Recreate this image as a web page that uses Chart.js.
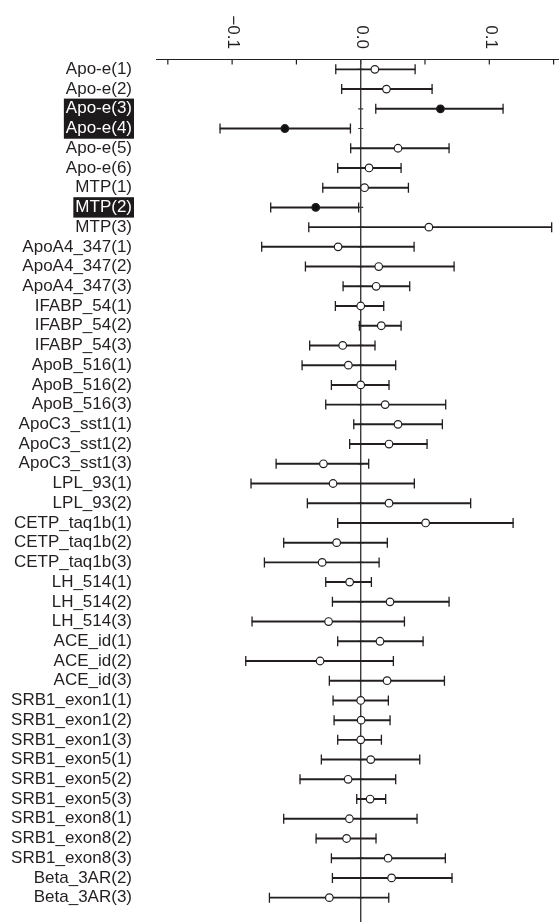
<!DOCTYPE html>
<html>
<head>
<meta charset="utf-8">
<script src="https://cdn.jsdelivr.net/npm/chart.js@4.4.1/dist/chart.umd.min.js"></script>
<style>
  html, body { margin: 0; padding: 0; background: #fff; }
  #wrap { width: 559px; height: 922px; position: relative; }
</style>
</head>
<body>
<div id="wrap"><canvas id="forestChart"></canvas></div>
<script>
/* Data */
let labels = [
    "Apo-e(1)", "Apo-e(2)", "Apo-e(3)", "Apo-e(4)", "Apo-e(5)", "Apo-e(6)",
    "MTP(1)", "MTP(2)", "MTP(3)",
    "ApoA4_347(1)", "ApoA4_347(2)", "ApoA4_347(3)",
    "IFABP_54(1)", "IFABP_54(2)", "IFABP_54(3)",
    "ApoB_516(1)", "ApoB_516(2)", "ApoB_516(3)",
    "ApoC3_sst1(1)", "ApoC3_sst1(2)", "ApoC3_sst1(3)",
    "LPL_93(1)", "LPL_93(2)",
    "CETP_taq1b(1)", "CETP_taq1b(2)", "CETP_taq1b(3)",
    "LH_514(1)", "LH_514(2)", "LH_514(3)",
    "ACE_id(1)", "ACE_id(2)", "ACE_id(3)",
    "SRB1_exon1(1)", "SRB1_exon1(2)", "SRB1_exon1(3)",
    "SRB1_exon5(1)", "SRB1_exon5(2)", "SRB1_exon5(3)",
    "SRB1_exon8(1)", "SRB1_exon8(2)", "SRB1_exon8(3)",
    "Beta_3AR(2)", "Beta_3AR(3)"
];

let estimate = [
    0.011, 0.020, 0.062, -0.059, 0.029, 0.0065,
    0.003, -0.035, 0.053,
    -0.0176, 0.014, 0.012,
    0.000, 0.016, -0.014,
    -0.0096, 0.000, 0.019,
    0.029, 0.022, -0.029,
    -0.0215, 0.022,
    0.0505, -0.0187, -0.030,
    -0.0086, 0.0228, -0.025,
    0.015, -0.0316, 0.0205,
    0.000, 0.0003, 0.000,
    0.0078, -0.0098, 0.0073,
    -0.0088, -0.011, 0.0213,
    0.024, -0.0244
];

let lower = [
    -0.0194, -0.0148, 0.0117, -0.1094, -0.0078, -0.0179,
    -0.0295, -0.0700, -0.0404,
    -0.0770, -0.0430, -0.0137,
    -0.0197, -0.0010, -0.0397,
    -0.0456, -0.0228, -0.0272,
    -0.0054, -0.0086, -0.0658,
    -0.0853, -0.0415,
    -0.0179, -0.0599, -0.0749,
    -0.0272, -0.0220, -0.0845,
    -0.0179, -0.0894, -0.0244,
    -0.0215, -0.0207, -0.0179,
    -0.0306, -0.0472, -0.0031,
    -0.0599, -0.0347, -0.0228,
    -0.0220, -0.0710
];

let upper = [
    0.0423, 0.0555, 0.1107, -0.0080, 0.0687, 0.0314,
    0.0371, -0.0016, 0.1485,
    0.0415, 0.0726, 0.0381,
    0.0179, 0.0314, 0.0111,
    0.0272, 0.0220, 0.0661,
    0.0635, 0.0516, 0.0062,
    0.0417, 0.0855,
    0.1185, 0.0207, 0.0143,
    0.0083, 0.0687, 0.0340,
    0.0485, 0.0254, 0.0651,
    0.0215, 0.0228, 0.0161,
    0.0459, 0.0272, 0.0194,
    0.0438, 0.0119, 0.0658,
    0.0710, 0.0218
];

// rows flagged as significant (black dot, boxed label)
let significant = ["Apo-e(3)", "Apo-e(4)", "MTP(2)"];

let xTickValues = [-0.15, -0.1, -0.05, 0, 0.05, 0.1, 0.15];
let xLabelValues = [-0.1, 0, 0.1];
let xLabelTexts = ["\u22120.1", "0.0", "0.1"];

/* Helpers */
const INK = "#231f20";
const FONT = '"Liberation Sans", Arial, Helvetica, sans-serif';
function isSig(i) {
    return significant.indexOf(labels[i]) >= 0;
}

/* Top axis + zero line, drawn under the marks */
const topAxis = {
    id: "topAxis",
    beforeDatasetsDraw(chart) {
        const { ctx, chartArea, scales } = chart;
        const x = scales.x, y = scales.y;
        const top = chartArea.top;
        const zero = x.getPixelForValue(0);
        ctx.save();
        ctx.strokeStyle = INK;
        ctx.lineWidth = 1.2;
        ctx.beginPath();
        ctx.moveTo(chartArea.left, top);
        ctx.lineTo(chartArea.right, top);
        xTickValues.forEach(function (v) {
            let px = x.getPixelForValue(v);
            ctx.moveTo(px, top);
            ctx.lineTo(px, top + 5);
        });
        ctx.stroke();

        ctx.beginPath();
        ctx.lineWidth = 1.4;
        ctx.strokeStyle = "#3a3a3a";
        ctx.moveTo(zero, top);
        ctx.lineTo(zero, chart.height);
        ctx.stroke();

        ctx.beginPath();
        ctx.lineWidth = 1.2;
        labels.forEach(function (l, i) {
            let py = y.getPixelForValue(i);
            ctx.moveTo(zero - 2.5, py);
            ctx.lineTo(zero + 2.5, py);
        });
        ctx.stroke();

        ctx.fillStyle = INK;
        ctx.font = "17px " + FONT;
        ctx.textAlign = "right";
        ctx.textBaseline = "middle";
        xLabelValues.forEach(function (v, i) {
            ctx.save();
            ctx.translate(x.getPixelForValue(v) + 1, top - 10.5);
            ctx.rotate(Math.PI / 2);
            ctx.fillText(xLabelTexts[i], 0, 0);
            ctx.restore();
        });
        ctx.restore();
    }
};

/* Forest Plot */
let capData = [];
labels.forEach(function (l, i) {
    capData.push({ x: lower[i], y: l });
    capData.push({ x: upper[i], y: l });
});

new Chart("forestChart", {
    type: "bar",
    data: {
        labels: labels,
        datasets: [{
            type: "line",
            order: 0,
            data: labels.map(function (l, i) { return { x: estimate[i], y: l }; }),
            showLine: false,
            pointStyle: "circle",
            pointRadius: 3.8,
            pointBorderWidth: 1.2,
            pointBorderColor: INK,
            pointBackgroundColor: function (c) { return isSig(c.dataIndex) ? "#111" : "#fff"; }
        }, {
            type: "line",
            order: 1,
            data: capData,
            showLine: false,
            pointStyle: "line",
            pointRotation: 90,
            pointRadius: 5,
            pointBorderWidth: 1.3,
            pointBorderColor: INK
        }, {
            type: "bar",
            order: 2,
            data: labels.map(function (l, i) { return [lower[i], upper[i]]; }),
            backgroundColor: INK,
            borderWidth: 0,
            barThickness: 1.3
        }]
    },
    options: {
        indexAxis: "y",
        responsive: true,
        maintainAspectRatio: false,
        animation: false,
        events: [],
        layout: {
            autoPadding: false,
            padding: { top: 59.5, bottom: 14.5, left: 0, right: 0 }
        },
        plugins: {
            legend: { display: false },
            tooltip: { enabled: false }
        },
        scales: {
            x: {
                type: "linear",
                display: false,
                min: -0.1592,
                max: 0.1542
            },
            y: {
                type: "category",
                offset: true,
                grid: { display: false, drawTicks: true, tickLength: 20 },
                border: { display: false },
                afterFit: function (scale) { scale.width = 156; },
                ticks: {
                    autoSkip: false,
                    padding: 4,
                    font: { family: FONT, size: 17 },
                    color: function (c) { return isSig(c.index) ? "#fff" : INK; },
                    showLabelBackdrop: function (c) { return isSig(c.index); },
                    backdropColor: "#1c1a1b",
                    backdropPadding: { left: 2, right: 2, top: 0, bottom: 0 }
                }
            }
        }
    },
    plugins: [topAxis]
});
</script>
</body>
</html>
